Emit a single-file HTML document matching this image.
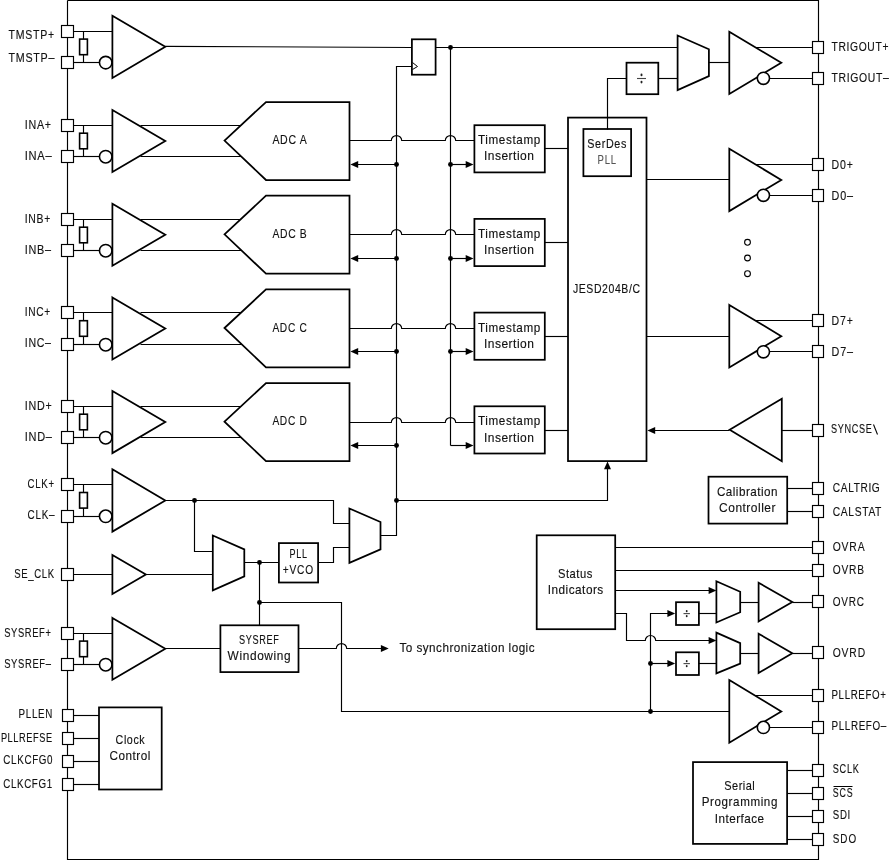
<!DOCTYPE html>
<html><head><meta charset="utf-8"><style>
html,body{margin:0;padding:0;background:#fff;width:890px;height:860px;overflow:hidden}
svg{display:block;filter:grayscale(1)}
text{font-family:"Liberation Sans",sans-serif}
</style></head><body>
<svg width="890" height="860" viewBox="0 0 890 860">
<rect width="890" height="860" fill="#fff"/>
<path d="M67.5 0.5 L818.5 0.5 L818.5 859.5 L67.5 859.5 L67.5 0.5" fill="none" stroke="#000" stroke-width="1.15"/>
<path d="M73.5 31.5 L112.5 31.5" fill="none" stroke="#000" stroke-width="1.15"/>
<path d="M73.5 62.5 L100.5 62.5" fill="none" stroke="#000" stroke-width="1.15"/>
<path d="M83.5 31.5 L83.5 62.5" fill="none" stroke="#000" stroke-width="1.15"/>
<rect x="79.6" y="39.1" width="7.8" height="15.6" fill="#fff" stroke="#000" stroke-width="1.6"/>
<circle cx="105.7" cy="62.6" r="6.25" fill="#fff" stroke="#000" stroke-width="1.6"/>
<path d="M112.4 15.7 L165.3 46.85 L112.4 78Z" fill="#fff" stroke="#000" stroke-width="1.75" stroke-linejoin="miter"/>
<path d="M165.3 46.4 L412 47.45" fill="none" stroke="#000" stroke-width="1.15"/>
<path d="M140.5 125.5 L250.5 125.5" fill="none" stroke="#000" stroke-width="1.15"/>
<path d="M140.5 156.5 L250.5 156.5" fill="none" stroke="#000" stroke-width="1.15"/>
<path d="M73.5 125.5 L112.5 125.5" fill="none" stroke="#000" stroke-width="1.15"/>
<path d="M73.5 156.5 L100.5 156.5" fill="none" stroke="#000" stroke-width="1.15"/>
<path d="M83.5 125.5 L83.5 156.5" fill="none" stroke="#000" stroke-width="1.15"/>
<rect x="79.6" y="133.2" width="7.8" height="15.6" fill="#fff" stroke="#000" stroke-width="1.6"/>
<circle cx="105.7" cy="156.7" r="6.25" fill="#fff" stroke="#000" stroke-width="1.6"/>
<path d="M112.4 110 L165.3 141 L112.4 172Z" fill="#fff" stroke="#000" stroke-width="1.75" stroke-linejoin="miter"/>
<path d="M224.5 140.6 L266 102 L349.5 102 L349.5 180 L266 180Z" fill="#fff" stroke="#000" stroke-width="1.75" stroke-linejoin="miter"/>
<text transform="matrix(0.8437 0 0 1 272.4 0)" y="144.4" font-size="12.5" letter-spacing="0.815" fill="#111" stroke="#111" stroke-width="0.14">ADC A</text>
<path d="M349.5 140.5 L391.3 140.5 A5.2 4.94 0 0 1 401.7 140.5 L445.3 140.5 A5.2 4.94 0 0 1 455.7 140.5 L474.4 140.5" fill="none" stroke="#000" stroke-width="1.15"/>
<path d="M357.5 164.5 L396.5 164.5" fill="none" stroke="#000" stroke-width="1.15"/>
<path d="M450.5 164.5 L466.5 164.5" fill="none" stroke="#000" stroke-width="1.15"/>
<path d="M350.4 164.5 L358.2 161 L358.2 168Z" fill="#000"/>
<path d="M473.5 164.5 L465.7 161 L465.7 168Z" fill="#000"/>
<circle cx="396.5" cy="164.5" r="2.45" fill="#000"/>
<circle cx="450.5" cy="164.5" r="2.45" fill="#000"/>
<rect x="474.4" y="125.2" width="70.4" height="47.2" fill="#fff" stroke="#000" stroke-width="1.75"/>
<path d="M544.5 148.5 L568.5 148.5" fill="none" stroke="#000" stroke-width="1.15"/>
<text transform="matrix(0.9342 0 0 1 478 0)" y="144.3" font-size="12.5" letter-spacing="0.667" fill="#111" stroke="#111" stroke-width="0.14">Timestamp</text>
<text transform="matrix(0.9615 0 0 1 483.9 0)" y="160.5" font-size="12.5" letter-spacing="0.521" fill="#111" stroke="#111" stroke-width="0.14">Insertion</text>
<path d="M140.5 219.5 L250.5 219.5" fill="none" stroke="#000" stroke-width="1.15"/>
<path d="M140.5 250.5 L250.5 250.5" fill="none" stroke="#000" stroke-width="1.15"/>
<path d="M73.5 219.5 L112.5 219.5" fill="none" stroke="#000" stroke-width="1.15"/>
<path d="M73.5 250.5 L100.5 250.5" fill="none" stroke="#000" stroke-width="1.15"/>
<path d="M83.5 219.5 L83.5 250.5" fill="none" stroke="#000" stroke-width="1.15"/>
<rect x="79.6" y="227.2" width="7.8" height="15.6" fill="#fff" stroke="#000" stroke-width="1.6"/>
<circle cx="105.7" cy="250.7" r="6.25" fill="#fff" stroke="#000" stroke-width="1.6"/>
<path d="M112.4 203.7 L165.3 234.7 L112.4 265.7Z" fill="#fff" stroke="#000" stroke-width="1.75" stroke-linejoin="miter"/>
<path d="M224.5 234.3 L266 195.7 L349.5 195.7 L349.5 273.7 L266 273.7Z" fill="#fff" stroke="#000" stroke-width="1.75" stroke-linejoin="miter"/>
<text transform="matrix(0.8285 0 0 1 272.4 0)" y="238.1" font-size="12.5" letter-spacing="0.830" fill="#111" stroke="#111" stroke-width="0.14">ADC B</text>
<path d="M349.5 234.5 L391.3 234.5 A5.2 4.94 0 0 1 401.7 234.5 L445.3 234.5 A5.2 4.94 0 0 1 455.7 234.5 L474.4 234.5" fill="none" stroke="#000" stroke-width="1.15"/>
<path d="M357.5 258.5 L396.5 258.5" fill="none" stroke="#000" stroke-width="1.15"/>
<path d="M450.5 258.5 L466.5 258.5" fill="none" stroke="#000" stroke-width="1.15"/>
<path d="M350.4 258.5 L358.2 255 L358.2 262Z" fill="#000"/>
<path d="M473.5 258.5 L465.7 255 L465.7 262Z" fill="#000"/>
<circle cx="396.5" cy="258.5" r="2.45" fill="#000"/>
<circle cx="450.5" cy="258.5" r="2.45" fill="#000"/>
<rect x="474.4" y="218.9" width="70.4" height="47.2" fill="#fff" stroke="#000" stroke-width="1.75"/>
<path d="M544.5 242.5 L568.5 242.5" fill="none" stroke="#000" stroke-width="1.15"/>
<text transform="matrix(0.9342 0 0 1 478 0)" y="238" font-size="12.5" letter-spacing="0.667" fill="#111" stroke="#111" stroke-width="0.14">Timestamp</text>
<text transform="matrix(0.9615 0 0 1 483.9 0)" y="254.2" font-size="12.5" letter-spacing="0.521" fill="#111" stroke="#111" stroke-width="0.14">Insertion</text>
<path d="M140.5 312.5 L250.5 312.5" fill="none" stroke="#000" stroke-width="1.15"/>
<path d="M140.5 344.5 L250.5 344.5" fill="none" stroke="#000" stroke-width="1.15"/>
<path d="M73.5 312.5 L112.5 312.5" fill="none" stroke="#000" stroke-width="1.15"/>
<path d="M73.5 344.5 L100.5 344.5" fill="none" stroke="#000" stroke-width="1.15"/>
<path d="M83.5 312.5 L83.5 344.5" fill="none" stroke="#000" stroke-width="1.15"/>
<rect x="79.6" y="320.7" width="7.8" height="15.6" fill="#fff" stroke="#000" stroke-width="1.6"/>
<circle cx="105.7" cy="344.7" r="6.25" fill="#fff" stroke="#000" stroke-width="1.6"/>
<path d="M112.4 297.4 L165.3 328.4 L112.4 359.4Z" fill="#fff" stroke="#000" stroke-width="1.75" stroke-linejoin="miter"/>
<path d="M224.5 328 L266 289.4 L349.5 289.4 L349.5 367.4 L266 367.4Z" fill="#fff" stroke="#000" stroke-width="1.75" stroke-linejoin="miter"/>
<text transform="matrix(0.8138 0 0 1 272.4 0)" y="331.8" font-size="12.5" letter-spacing="0.845" fill="#111" stroke="#111" stroke-width="0.14">ADC C</text>
<path d="M349.5 328.5 L391.3 328.5 A5.2 4.94 0 0 1 401.7 328.5 L445.3 328.5 A5.2 4.94 0 0 1 455.7 328.5 L474.4 328.5" fill="none" stroke="#000" stroke-width="1.15"/>
<path d="M357.5 351.5 L396.5 351.5" fill="none" stroke="#000" stroke-width="1.15"/>
<path d="M450.5 351.5 L466.5 351.5" fill="none" stroke="#000" stroke-width="1.15"/>
<path d="M350.4 351.5 L358.2 348 L358.2 355Z" fill="#000"/>
<path d="M473.5 351.5 L465.7 348 L465.7 355Z" fill="#000"/>
<circle cx="396.5" cy="351.5" r="2.45" fill="#000"/>
<circle cx="450.5" cy="351.5" r="2.45" fill="#000"/>
<rect x="474.4" y="312.6" width="70.4" height="47.2" fill="#fff" stroke="#000" stroke-width="1.75"/>
<path d="M544.5 336.5 L568.5 336.5" fill="none" stroke="#000" stroke-width="1.15"/>
<text transform="matrix(0.9342 0 0 1 478 0)" y="331.7" font-size="12.5" letter-spacing="0.667" fill="#111" stroke="#111" stroke-width="0.14">Timestamp</text>
<text transform="matrix(0.9615 0 0 1 483.9 0)" y="347.9" font-size="12.5" letter-spacing="0.521" fill="#111" stroke="#111" stroke-width="0.14">Insertion</text>
<path d="M140.5 406.5 L250.5 406.5" fill="none" stroke="#000" stroke-width="1.15"/>
<path d="M140.5 437.5 L250.5 437.5" fill="none" stroke="#000" stroke-width="1.15"/>
<path d="M73.5 406.5 L112.5 406.5" fill="none" stroke="#000" stroke-width="1.15"/>
<path d="M73.5 437.5 L100.5 437.5" fill="none" stroke="#000" stroke-width="1.15"/>
<path d="M83.5 406.5 L83.5 437.5" fill="none" stroke="#000" stroke-width="1.15"/>
<rect x="79.6" y="414.2" width="7.8" height="15.6" fill="#fff" stroke="#000" stroke-width="1.6"/>
<circle cx="105.7" cy="437.7" r="6.25" fill="#fff" stroke="#000" stroke-width="1.6"/>
<path d="M112.4 391.1 L165.3 422.1 L112.4 453.1Z" fill="#fff" stroke="#000" stroke-width="1.75" stroke-linejoin="miter"/>
<path d="M224.5 421.7 L266 383.1 L349.5 383.1 L349.5 461.1 L266 461.1Z" fill="#fff" stroke="#000" stroke-width="1.75" stroke-linejoin="miter"/>
<text transform="matrix(0.8138 0 0 1 272.4 0)" y="425.5" font-size="12.5" letter-spacing="0.845" fill="#111" stroke="#111" stroke-width="0.14">ADC D</text>
<path d="M349.5 422.5 L391.3 422.5 A5.2 4.94 0 0 1 401.7 422.5 L445.3 422.5 A5.2 4.94 0 0 1 455.7 422.5 L474.4 422.5" fill="none" stroke="#000" stroke-width="1.15"/>
<path d="M357.5 445.5 L396.5 445.5" fill="none" stroke="#000" stroke-width="1.15"/>
<path d="M450.5 445.5 L466.5 445.5" fill="none" stroke="#000" stroke-width="1.15"/>
<path d="M350.4 445.5 L358.2 442 L358.2 449Z" fill="#000"/>
<path d="M473.5 445.5 L465.7 442 L465.7 449Z" fill="#000"/>
<circle cx="396.5" cy="445.5" r="2.45" fill="#000"/>
<rect x="474.4" y="406.3" width="70.4" height="47.2" fill="#fff" stroke="#000" stroke-width="1.75"/>
<path d="M544.5 430.5 L568.5 430.5" fill="none" stroke="#000" stroke-width="1.15"/>
<text transform="matrix(0.9342 0 0 1 478 0)" y="425.4" font-size="12.5" letter-spacing="0.667" fill="#111" stroke="#111" stroke-width="0.14">Timestamp</text>
<text transform="matrix(0.9615 0 0 1 483.9 0)" y="441.6" font-size="12.5" letter-spacing="0.521" fill="#111" stroke="#111" stroke-width="0.14">Insertion</text>
<path d="M73.5 484.5 L112.5 484.5" fill="none" stroke="#000" stroke-width="1.15"/>
<path d="M73.5 516.5 L100.5 516.5" fill="none" stroke="#000" stroke-width="1.15"/>
<path d="M83.5 484.5 L83.5 516.5" fill="none" stroke="#000" stroke-width="1.15"/>
<rect x="79.6" y="492.5" width="7.8" height="15.6" fill="#fff" stroke="#000" stroke-width="1.6"/>
<circle cx="105.7" cy="516.3" r="6.25" fill="#fff" stroke="#000" stroke-width="1.6"/>
<path d="M112.4 469.3 L165.3 500.45 L112.4 531.6Z" fill="#fff" stroke="#000" stroke-width="1.75" stroke-linejoin="miter"/>
<path d="M165.5 500.5 L333.5 500.5 L333.5 523.5 L349.5 523.5" fill="none" stroke="#000" stroke-width="1.15"/>
<circle cx="194.5" cy="500.5" r="2.45" fill="#000"/>
<path d="M194.5 500.5 L194.5 551.5 L212.5 551.5" fill="none" stroke="#000" stroke-width="1.15"/>
<path d="M73.5 574.5 L112.5 574.5" fill="none" stroke="#000" stroke-width="1.15"/>
<path d="M112.4 555.1 L145.9 574.4 L112.4 594Z" fill="#fff" stroke="#000" stroke-width="1.75" stroke-linejoin="miter"/>
<path d="M145.5 574.5 L212.5 574.5" fill="none" stroke="#000" stroke-width="1.15"/>
<path d="M212.8 535.5 L244.3 549.4 L244.3 576.4 L212.8 590.3Z" fill="#fff" stroke="#000" stroke-width="1.75" stroke-linejoin="miter"/>
<path d="M244.5 562.5 L278.5 562.5" fill="none" stroke="#000" stroke-width="1.15"/>
<circle cx="259.5" cy="562.5" r="2.45" fill="#000"/>
<rect x="278.9" y="543.1" width="39.2" height="39.4" fill="#fff" stroke="#000" stroke-width="1.75"/>
<text transform="matrix(0.7240 0 0 1 289.6 0)" y="557.9" font-size="12.5" letter-spacing="0.967" fill="#111" stroke="#111" stroke-width="0.14">PLL</text>
<text transform="matrix(0.8133 0 0 1 282.8 0)" y="574.4" font-size="12.5" letter-spacing="0.997" fill="#111" stroke="#111" stroke-width="0.14">+VCO</text>
<path d="M318.5 562.5 L333.5 562.5 L333.5 547.5 L349.5 547.5" fill="none" stroke="#000" stroke-width="1.15"/>
<path d="M349.4 508.5 L380.5 522 L380.5 549.4 L349.4 562.9Z" fill="#fff" stroke="#000" stroke-width="1.75" stroke-linejoin="miter"/>
<path d="M380.5 535.5 L396.5 535.5 L396.5 66.5 L412.5 66.5" fill="none" stroke="#000" stroke-width="1.15"/>
<rect x="411.9" y="39.3" width="23.7" height="35.4" fill="#fff" stroke="#000" stroke-width="1.75"/>
<path d="M412.5 62.5 L417.5 66.5 L412.5 69.5" fill="none" stroke="#000" stroke-width="1.0"/>
<path d="M435.5 47.5 L677.5 47.5" fill="none" stroke="#000" stroke-width="1.15"/>
<circle cx="450.5" cy="47.5" r="2.45" fill="#000"/>
<path d="M450.5 47.5 L450.5 445.5" fill="none" stroke="#000" stroke-width="1.15"/>
<circle cx="396.5" cy="500.5" r="2.45" fill="#000"/>
<path d="M396.5 500.5 L607.5 500.5 L607.5 468.5" fill="none" stroke="#000" stroke-width="1.15"/>
<path d="M607.5 461.5 L604 469.3 L611 469.3Z" fill="#000"/>
<path d="M259.5 562.5 L259.5 625.5" fill="none" stroke="#000" stroke-width="1.15"/>
<circle cx="259.5" cy="602.5" r="2.45" fill="#000"/>
<path d="M259.5 602.5 L341.5 602.5 L341.5 711.5 L729.5 711.5" fill="none" stroke="#000" stroke-width="1.15"/>
<circle cx="650.5" cy="711.5" r="2.45" fill="#000"/>
<path d="M73.5 633.5 L112.5 633.5" fill="none" stroke="#000" stroke-width="1.15"/>
<path d="M73.5 664.5 L100.5 664.5" fill="none" stroke="#000" stroke-width="1.15"/>
<path d="M83.5 633.5 L83.5 664.5" fill="none" stroke="#000" stroke-width="1.15"/>
<rect x="79.6" y="641.1" width="7.8" height="15.6" fill="#fff" stroke="#000" stroke-width="1.6"/>
<circle cx="105.7" cy="664.7" r="6.25" fill="#fff" stroke="#000" stroke-width="1.6"/>
<path d="M112.4 617.9 L165.3 648.85 L112.4 679.8Z" fill="#fff" stroke="#000" stroke-width="1.75" stroke-linejoin="miter"/>
<path d="M165.5 648.5 L220.5 648.5" fill="none" stroke="#000" stroke-width="1.15"/>
<rect x="220.4" y="625.3" width="78.1" height="46.8" fill="#fff" stroke="#000" stroke-width="1.75"/>
<text transform="matrix(0.7321 0 0 1 239 0)" y="643.7" font-size="12.5" letter-spacing="0.870" fill="#111" stroke="#111" stroke-width="0.14">SYSREF</text>
<text transform="matrix(0.9495 0 0 1 227.6 0)" y="660.3" font-size="12.5" letter-spacing="0.665" fill="#111" stroke="#111" stroke-width="0.14">Windowing</text>
<path d="M298.5 648.5 L336.3 648.5 A5.2 4.94 0 0 1 346.7 648.5 L382 648.5" fill="none" stroke="#000" stroke-width="1.15"/>
<path d="M388.7 648.5 L380.9 645 L380.9 652Z" fill="#000"/>
<text transform="matrix(0.9372 0 0 1 399.4 0)" y="652.5" font-size="12.5" letter-spacing="0.502" fill="#111" stroke="#111" stroke-width="0.14">To synchronization logic</text>
<path d="M73.5 715.5 L99.5 715.5" fill="none" stroke="#000" stroke-width="1.15"/>
<path d="M73.5 738.5 L99.5 738.5" fill="none" stroke="#000" stroke-width="1.15"/>
<path d="M73.5 761.5 L99.5 761.5" fill="none" stroke="#000" stroke-width="1.15"/>
<path d="M73.5 784.5 L99.5 784.5" fill="none" stroke="#000" stroke-width="1.15"/>
<rect x="99" y="707.4" width="62.7" height="82.1" fill="#fff" stroke="#000" stroke-width="1.75"/>
<text transform="matrix(0.8557 0 0 1 115.6 0)" y="743.6" font-size="12.5" letter-spacing="0.680" fill="#111" stroke="#111" stroke-width="0.14">Clock</text>
<text transform="matrix(0.9360 0 0 1 109.5 0)" y="760.2" font-size="12.5" letter-spacing="0.584" fill="#111" stroke="#111" stroke-width="0.14">Control</text>
<rect x="568" y="117.6" width="78.5" height="343.5" fill="#fff" stroke="#000" stroke-width="1.75"/>
<text transform="matrix(0.8394 0 0 1 572.9 0)" y="292.8" font-size="12.5" letter-spacing="0.712" fill="#111" stroke="#111" stroke-width="0.14">JESD204B/C</text>
<rect x="583.4" y="129" width="47.7" height="47.2" fill="#fff" stroke="#000" stroke-width="1.75"/>
<text transform="matrix(0.8607 0 0 1 587.3 0)" y="147.9" font-size="12.5" letter-spacing="0.725" fill="#111" stroke="#111" stroke-width="0.14">SerDes</text>
<text transform="matrix(0.7612 0 0 1 597.6 0)" y="164.3" font-size="12.5" letter-spacing="0.967" fill="#555" stroke="#555" stroke-width="0.14">PLL</text>
<path d="M607.5 129.5 L607.5 78.5 L626.5 78.5" fill="none" stroke="#000" stroke-width="1.15"/>
<rect x="626.5" y="62.7" width="31.8" height="31.5" fill="#fff" stroke="#000" stroke-width="1.75"/>
<path d="M658.5 78.5 L677.5 78.5" fill="none" stroke="#000" stroke-width="1.15"/>
<path d="M677.6 35.5 L708.9 49.2 L708.9 76.1 L677.6 90.1Z" fill="#fff" stroke="#000" stroke-width="1.75" stroke-linejoin="miter"/>
<path d="M708.5 62.5 L729.5 62.5" fill="none" stroke="#000" stroke-width="1.15"/>
<path d="M740.5 47.5 L812.5 47.5" fill="none" stroke="#000" stroke-width="1.15"/>
<path d="M765.5 78.5 L812.5 78.5" fill="none" stroke="#000" stroke-width="1.15"/>
<path d="M729.3 31.7 L781.3 62.8 L729.3 93.9Z" fill="#fff" stroke="#000" stroke-width="1.75" stroke-linejoin="miter"/>
<circle cx="763.4" cy="78.3" r="6.1" fill="#fff" stroke="#000" stroke-width="1.6"/>
<path d="M646.5 179.5 L729.5 179.5" fill="none" stroke="#000" stroke-width="1.15"/>
<path d="M740.5 164.5 L812.5 164.5" fill="none" stroke="#000" stroke-width="1.15"/>
<path d="M765.5 195.5 L812.5 195.5" fill="none" stroke="#000" stroke-width="1.15"/>
<path d="M729.3 148.8 L781.3 179.95 L729.3 211.1Z" fill="#fff" stroke="#000" stroke-width="1.75" stroke-linejoin="miter"/>
<circle cx="763.4" cy="195.3" r="6.1" fill="#fff" stroke="#000" stroke-width="1.6"/>
<path d="M646.5 336.5 L729.5 336.5" fill="none" stroke="#000" stroke-width="1.15"/>
<path d="M740.5 320.5 L812.5 320.5" fill="none" stroke="#000" stroke-width="1.15"/>
<path d="M765.5 351.5 L812.5 351.5" fill="none" stroke="#000" stroke-width="1.15"/>
<path d="M729.3 304.9 L781.3 336.2 L729.3 367.5Z" fill="#fff" stroke="#000" stroke-width="1.75" stroke-linejoin="miter"/>
<circle cx="763.4" cy="351.8" r="6.1" fill="#fff" stroke="#000" stroke-width="1.6"/>
<circle cx="747.5" cy="242.3" r="2.9" fill="#fff" stroke="#000" stroke-width="1.1"/>
<circle cx="747.5" cy="258" r="2.9" fill="#fff" stroke="#000" stroke-width="1.1"/>
<circle cx="747.5" cy="273.7" r="2.9" fill="#fff" stroke="#000" stroke-width="1.1"/>
<path d="M781.5 430.5 L812.5 430.5" fill="none" stroke="#000" stroke-width="1.15"/>
<path d="M781.8 398.7 L729.7 429.8 L781.8 461.2Z" fill="#fff" stroke="#000" stroke-width="1.75" stroke-linejoin="miter"/>
<path d="M729.5 430.5 L652.5 430.5" fill="none" stroke="#000" stroke-width="1.15"/>
<path d="M647.4 430.5 L655.2 427 L655.2 434Z" fill="#000"/>
<rect x="708.5" y="476.7" width="78.7" height="46.9" fill="#fff" stroke="#000" stroke-width="1.75"/>
<path d="M787.5 488.5 L812.5 488.5" fill="none" stroke="#000" stroke-width="1.15"/>
<path d="M787.5 511.5 L812.5 511.5" fill="none" stroke="#000" stroke-width="1.15"/>
<text transform="matrix(0.9331 0 0 1 716.9 0)" y="495.6" font-size="12.5" letter-spacing="0.520" fill="#111" stroke="#111" stroke-width="0.14">Calibration</text>
<text transform="matrix(0.9576 0 0 1 719.1 0)" y="511.9" font-size="12.5" letter-spacing="0.524" fill="#111" stroke="#111" stroke-width="0.14">Controller</text>
<rect x="536.7" y="535.3" width="78.5" height="93.9" fill="#fff" stroke="#000" stroke-width="1.75"/>
<text transform="matrix(0.8957 0 0 1 557.9 0)" y="577.7" font-size="12.5" letter-spacing="0.616" fill="#111" stroke="#111" stroke-width="0.14">Status</text>
<text transform="matrix(0.9440 0 0 1 547.7 0)" y="594" font-size="12.5" letter-spacing="0.524" fill="#111" stroke="#111" stroke-width="0.14">Indicators</text>
<path d="M615.5 547.5 L812.5 547.5" fill="none" stroke="#000" stroke-width="1.15"/>
<path d="M615.5 570.5 L812.5 570.5" fill="none" stroke="#000" stroke-width="1.15"/>
<path d="M615.5 590.5 L709.5 590.5" fill="none" stroke="#000" stroke-width="1.15"/>
<path d="M716.4 590.5 L708.6 587 L708.6 594Z" fill="#000"/>
<path d="M615.2 613.5 L626.5 613.5 L626.5 640.5 L645.3 640.5 A5.2 5 0 0 1 655.7 640.5 L709 640.5" fill="none" stroke="#000" stroke-width="1.15"/>
<path d="M716.4 640.5 L708.6 637 L708.6 644Z" fill="#000"/>
<path d="M650.5 711.5 L650.5 613.5 L668.5 613.5" fill="none" stroke="#000" stroke-width="1.15"/>
<path d="M675.2 613.5 L667.4 610 L667.4 617Z" fill="#000"/>
<circle cx="650.5" cy="663.5" r="2.45" fill="#000"/>
<path d="M650.5 663.5 L668.5 663.5" fill="none" stroke="#000" stroke-width="1.15"/>
<path d="M675.2 663.5 L667.4 660 L667.4 667Z" fill="#000"/>
<rect x="676" y="602.2" width="22.9" height="22.8" fill="#fff" stroke="#000" stroke-width="1.75"/>
<path d="M698.5 613.5 L716.5 613.5" fill="none" stroke="#000" stroke-width="1.15"/>
<rect x="676" y="652.3" width="22.9" height="22.7" fill="#fff" stroke="#000" stroke-width="1.75"/>
<path d="M698.5 663.5 L716.5 663.5" fill="none" stroke="#000" stroke-width="1.15"/>
<path d="M683.5 613.6 L689.9 613.6" stroke="#444" stroke-width="1.1"/>
<ellipse cx="686.7" cy="611.1" rx="0.9" ry="1.2" fill="#222"/>
<ellipse cx="686.7" cy="616.1" rx="0.9" ry="1.2" fill="#222"/>
<path d="M683.5 663.6 L689.9 663.6" stroke="#444" stroke-width="1.1"/>
<ellipse cx="686.7" cy="661.1" rx="0.9" ry="1.2" fill="#222"/>
<ellipse cx="686.7" cy="666.1" rx="0.9" ry="1.2" fill="#222"/>
<path d="M637 78.5 L646 78.5" stroke="#444" stroke-width="1.1"/>
<ellipse cx="641.5" cy="74.9" rx="0.99" ry="1.32" fill="#222"/>
<ellipse cx="641.5" cy="82.1" rx="0.99" ry="1.32" fill="#222"/>
<path d="M716.4 581.3 L740.2 591.7 L740.2 612.2 L716.4 622.5Z" fill="#fff" stroke="#000" stroke-width="1.75" stroke-linejoin="miter"/>
<path d="M740.5 602.5 L758.5 602.5" fill="none" stroke="#000" stroke-width="1.15"/>
<path d="M792.5 602.5 L812.5 602.5" fill="none" stroke="#000" stroke-width="1.15"/>
<path d="M758.6 582.7 L792.3 602.05 L758.6 621.4Z" fill="#fff" stroke="#000" stroke-width="1.75" stroke-linejoin="miter"/>
<path d="M716.4 632.6 L740.2 643.1 L740.2 663.6 L716.4 673.4Z" fill="#fff" stroke="#000" stroke-width="1.75" stroke-linejoin="miter"/>
<path d="M740.5 653.5 L758.5 653.5" fill="none" stroke="#000" stroke-width="1.15"/>
<path d="M792.5 653.5 L812.5 653.5" fill="none" stroke="#000" stroke-width="1.15"/>
<path d="M758.6 633.7 L792.3 653.3 L758.6 672.9Z" fill="#fff" stroke="#000" stroke-width="1.75" stroke-linejoin="miter"/>
<path d="M740.5 695.5 L812.5 695.5" fill="none" stroke="#000" stroke-width="1.15"/>
<path d="M765.5 727.5 L812.5 727.5" fill="none" stroke="#000" stroke-width="1.15"/>
<path d="M729.3 680 L781.3 711.4 L729.3 742.8Z" fill="#fff" stroke="#000" stroke-width="1.75" stroke-linejoin="miter"/>
<circle cx="763.4" cy="727.4" r="6.1" fill="#fff" stroke="#000" stroke-width="1.6"/>
<rect x="693" y="762.1" width="94.1" height="81.8" fill="#fff" stroke="#000" stroke-width="1.75"/>
<path d="M787.5 770.5 L812.5 770.5" fill="none" stroke="#000" stroke-width="1.15"/>
<path d="M787.5 793.5 L812.5 793.5" fill="none" stroke="#000" stroke-width="1.15"/>
<path d="M787.5 816.5 L812.5 816.5" fill="none" stroke="#000" stroke-width="1.15"/>
<path d="M787.5 839.5 L812.5 839.5" fill="none" stroke="#000" stroke-width="1.15"/>
<text transform="matrix(0.8779 0 0 1 724.3 0)" y="789.6" font-size="12.5" letter-spacing="0.556" fill="#111" stroke="#111" stroke-width="0.14">Serial</text>
<text transform="matrix(0.9295 0 0 1 701.7 0)" y="806.3" font-size="12.5" letter-spacing="0.652" fill="#111" stroke="#111" stroke-width="0.14">Programming</text>
<text transform="matrix(0.9344 0 0 1 714.7 0)" y="823" font-size="12.5" letter-spacing="0.529" fill="#111" stroke="#111" stroke-width="0.14">Interface</text>
<rect x="61.5" y="25.5" width="12" height="12" fill="#fff" stroke="#000" stroke-width="1.15"/>
<rect x="61.5" y="56.5" width="12" height="12" fill="#fff" stroke="#000" stroke-width="1.15"/>
<rect x="61.5" y="119.5" width="12" height="12" fill="#fff" stroke="#000" stroke-width="1.15"/>
<rect x="61.5" y="150.5" width="12" height="12" fill="#fff" stroke="#000" stroke-width="1.15"/>
<rect x="61.5" y="213.5" width="12" height="12" fill="#fff" stroke="#000" stroke-width="1.15"/>
<rect x="61.5" y="244.5" width="12" height="12" fill="#fff" stroke="#000" stroke-width="1.15"/>
<rect x="61.5" y="306.5" width="12" height="12" fill="#fff" stroke="#000" stroke-width="1.15"/>
<rect x="61.5" y="338.5" width="12" height="12" fill="#fff" stroke="#000" stroke-width="1.15"/>
<rect x="61.5" y="400.5" width="12" height="12" fill="#fff" stroke="#000" stroke-width="1.15"/>
<rect x="61.5" y="431.5" width="12" height="12" fill="#fff" stroke="#000" stroke-width="1.15"/>
<rect x="61.5" y="478.5" width="12" height="12" fill="#fff" stroke="#000" stroke-width="1.15"/>
<rect x="61.5" y="510.5" width="12" height="12" fill="#fff" stroke="#000" stroke-width="1.15"/>
<rect x="61.5" y="568.5" width="12" height="12" fill="#fff" stroke="#000" stroke-width="1.15"/>
<rect x="61.5" y="627.5" width="12" height="12" fill="#fff" stroke="#000" stroke-width="1.15"/>
<rect x="61.5" y="658.5" width="12" height="12" fill="#fff" stroke="#000" stroke-width="1.15"/>
<rect x="62.5" y="709.5" width="11" height="12" fill="#fff" stroke="#000" stroke-width="1.15"/>
<rect x="62.5" y="732.5" width="11" height="12" fill="#fff" stroke="#000" stroke-width="1.15"/>
<rect x="62.5" y="755.5" width="11" height="12" fill="#fff" stroke="#000" stroke-width="1.15"/>
<rect x="62.5" y="778.5" width="11" height="12" fill="#fff" stroke="#000" stroke-width="1.15"/>
<rect x="812.5" y="41.5" width="11" height="12" fill="#fff" stroke="#000" stroke-width="1.15"/>
<rect x="812.5" y="72.5" width="11" height="12" fill="#fff" stroke="#000" stroke-width="1.15"/>
<rect x="812.5" y="158.5" width="11" height="12" fill="#fff" stroke="#000" stroke-width="1.15"/>
<rect x="812.5" y="189.5" width="11" height="12" fill="#fff" stroke="#000" stroke-width="1.15"/>
<rect x="812.5" y="314.5" width="11" height="12" fill="#fff" stroke="#000" stroke-width="1.15"/>
<rect x="812.5" y="345.5" width="11" height="12" fill="#fff" stroke="#000" stroke-width="1.15"/>
<rect x="812.5" y="424.5" width="11" height="12" fill="#fff" stroke="#000" stroke-width="1.15"/>
<rect x="812.5" y="482.5" width="11" height="12" fill="#fff" stroke="#000" stroke-width="1.15"/>
<rect x="812.5" y="505.5" width="11" height="12" fill="#fff" stroke="#000" stroke-width="1.15"/>
<rect x="812.5" y="541.5" width="11" height="12" fill="#fff" stroke="#000" stroke-width="1.15"/>
<rect x="812.5" y="564.5" width="11" height="12" fill="#fff" stroke="#000" stroke-width="1.15"/>
<rect x="812.5" y="595.5" width="11" height="12" fill="#fff" stroke="#000" stroke-width="1.15"/>
<rect x="812.5" y="646.5" width="11" height="12" fill="#fff" stroke="#000" stroke-width="1.15"/>
<rect x="812.5" y="689.5" width="11" height="12" fill="#fff" stroke="#000" stroke-width="1.15"/>
<rect x="812.5" y="721.5" width="11" height="12" fill="#fff" stroke="#000" stroke-width="1.15"/>
<rect x="812.5" y="764.5" width="11" height="12" fill="#fff" stroke="#000" stroke-width="1.15"/>
<rect x="812.5" y="787.5" width="11" height="12" fill="#fff" stroke="#000" stroke-width="1.15"/>
<rect x="812.5" y="810.5" width="11" height="12" fill="#fff" stroke="#000" stroke-width="1.15"/>
<rect x="812.5" y="833.5" width="11" height="12" fill="#fff" stroke="#000" stroke-width="1.15"/>
<text transform="matrix(0.8447 0 0 1 8.5 0)" y="39.3" font-size="12.5" letter-spacing="0.864" fill="#111" stroke="#111" stroke-width="0.14">TMSTP+</text>
<text transform="matrix(0.8563 0 0 1 8.5 0)" y="61.8" font-size="12.5" letter-spacing="0.858" fill="#111" stroke="#111" stroke-width="0.14">TMSTP–</text>
<text transform="matrix(0.8567 0 0 1 24.8 0)" y="129.1" font-size="12.5" letter-spacing="0.816" fill="#111" stroke="#111" stroke-width="0.14">INA+</text>
<text transform="matrix(0.8906 0 0 1 24.8 0)" y="159.6" font-size="12.5" letter-spacing="0.805" fill="#111" stroke="#111" stroke-width="0.14">INA–</text>
<text transform="matrix(0.8338 0 0 1 24.8 0)" y="222.7" font-size="12.5" letter-spacing="0.816" fill="#111" stroke="#111" stroke-width="0.14">INB+</text>
<text transform="matrix(0.8674 0 0 1 24.8 0)" y="253.8" font-size="12.5" letter-spacing="0.805" fill="#111" stroke="#111" stroke-width="0.14">INB–</text>
<text transform="matrix(0.8139 0 0 1 24.8 0)" y="316" font-size="12.5" letter-spacing="0.836" fill="#111" stroke="#111" stroke-width="0.14">INC+</text>
<text transform="matrix(0.8465 0 0 1 24.8 0)" y="347.5" font-size="12.5" letter-spacing="0.825" fill="#111" stroke="#111" stroke-width="0.14">INC–</text>
<text transform="matrix(0.8586 0 0 1 24.8 0)" y="410.1" font-size="12.5" letter-spacing="0.836" fill="#111" stroke="#111" stroke-width="0.14">IND+</text>
<text transform="matrix(0.8788 0 0 1 24.8 0)" y="441.5" font-size="12.5" letter-spacing="0.825" fill="#111" stroke="#111" stroke-width="0.14">IND–</text>
<text transform="matrix(0.7712 0 0 1 27.6 0)" y="488.1" font-size="12.5" letter-spacing="0.916" fill="#111" stroke="#111" stroke-width="0.14">CLK+</text>
<text transform="matrix(0.7916 0 0 1 27.6 0)" y="519.5" font-size="12.5" letter-spacing="0.906" fill="#111" stroke="#111" stroke-width="0.14">CLK–</text>
<text transform="matrix(0.7657 0 0 1 14.2 0)" y="577.6" font-size="12.5" letter-spacing="0.834" fill="#111" stroke="#111" stroke-width="0.14">SE_CLK</text>
<text transform="matrix(0.7496 0 0 1 4.2 0)" y="636.7" font-size="12.5" letter-spacing="0.831" fill="#111" stroke="#111" stroke-width="0.14">SYSREF+</text>
<text transform="matrix(0.7559 0 0 1 4.2 0)" y="667.8" font-size="12.5" letter-spacing="0.826" fill="#111" stroke="#111" stroke-width="0.14">SYSREF–</text>
<text transform="matrix(0.7829 0 0 1 18.6 0)" y="718.4" font-size="12.5" letter-spacing="0.861" fill="#111" stroke="#111" stroke-width="0.14">PLLEN</text>
<text transform="matrix(0.7370 0 0 1 0.9 0)" y="742.4" font-size="12.5" letter-spacing="0.794" fill="#111" stroke="#111" stroke-width="0.14">PLLREFSE</text>
<text transform="matrix(0.7867 0 0 1 3.3 0)" y="764.2" font-size="12.5" letter-spacing="0.836" fill="#111" stroke="#111" stroke-width="0.14">CLKCFG0</text>
<text transform="matrix(0.7788 0 0 1 3.3 0)" y="788.1" font-size="12.5" letter-spacing="0.836" fill="#111" stroke="#111" stroke-width="0.14">CLKCFG1</text>
<text transform="matrix(0.8252 0 0 1 831.5 0)" y="51" font-size="12.5" letter-spacing="0.789" fill="#111" stroke="#111" stroke-width="0.14">TRIGOUT+</text>
<text transform="matrix(0.8327 0 0 1 831.5 0)" y="82.4" font-size="12.5" letter-spacing="0.785" fill="#111" stroke="#111" stroke-width="0.14">TRIGOUT–</text>
<text transform="matrix(0.8459 0 0 1 831.5 0)" y="168.8" font-size="12.5" letter-spacing="1.012" fill="#111" stroke="#111" stroke-width="0.14">D0+</text>
<text transform="matrix(0.8628 0 0 1 831.5 0)" y="199.8" font-size="12.5" letter-spacing="0.997" fill="#111" stroke="#111" stroke-width="0.14">D0–</text>
<text transform="matrix(0.8459 0 0 1 831.5 0)" y="324.6" font-size="12.5" letter-spacing="1.012" fill="#111" stroke="#111" stroke-width="0.14">D7+</text>
<text transform="matrix(0.8628 0 0 1 831.5 0)" y="355.6" font-size="12.5" letter-spacing="0.997" fill="#111" stroke="#111" stroke-width="0.14">D7–</text>
<text transform="matrix(0.7303 0 0 1 831.1 0)" y="433.4" font-size="12.5" letter-spacing="0.894" fill="#111" stroke="#111" stroke-width="0.14">SYNCSE</text>
<text transform="matrix(0.8120 0 0 1 832.8 0)" y="491.8" font-size="12.5" letter-spacing="0.772" fill="#111" stroke="#111" stroke-width="0.14">CALTRIG</text>
<text transform="matrix(0.8217 0 0 1 832.8 0)" y="515.9" font-size="12.5" letter-spacing="0.789" fill="#111" stroke="#111" stroke-width="0.14">CALSTAT</text>
<text transform="matrix(0.8285 0 0 1 832.7 0)" y="551.5" font-size="12.5" letter-spacing="1.027" fill="#111" stroke="#111" stroke-width="0.14">OVRA</text>
<text transform="matrix(0.8155 0 0 1 832.7 0)" y="574.4" font-size="12.5" letter-spacing="1.027" fill="#111" stroke="#111" stroke-width="0.14">OVRB</text>
<text transform="matrix(0.7999 0 0 1 832.7 0)" y="606.3" font-size="12.5" letter-spacing="1.047" fill="#111" stroke="#111" stroke-width="0.14">OVRC</text>
<text transform="matrix(0.8254 0 0 1 832.7 0)" y="656.8" font-size="12.5" letter-spacing="1.047" fill="#111" stroke="#111" stroke-width="0.14">OVRD</text>
<text transform="matrix(0.7788 0 0 1 831.5 0)" y="699" font-size="12.5" letter-spacing="0.798" fill="#111" stroke="#111" stroke-width="0.14">PLLREFO+</text>
<text transform="matrix(0.7888 0 0 1 831.5 0)" y="730" font-size="12.5" letter-spacing="0.794" fill="#111" stroke="#111" stroke-width="0.14">PLLREFO–</text>
<text transform="matrix(0.7326 0 0 1 832.8 0)" y="773" font-size="12.5" letter-spacing="0.946" fill="#111" stroke="#111" stroke-width="0.14">SCLK</text>
<text transform="matrix(0.7088 0 0 1 832.8 0)" y="797.4" font-size="12.5" letter-spacing="1.117" fill="#111" stroke="#111" stroke-width="0.14">SCS</text>
<text transform="matrix(0.7726 0 0 1 832.8 0)" y="819.1" font-size="12.5" letter-spacing="0.906" fill="#111" stroke="#111" stroke-width="0.14">SDI</text>
<text transform="matrix(0.7914 0 0 1 832.8 0)" y="842.8" font-size="12.5" letter-spacing="1.178" fill="#111" stroke="#111" stroke-width="0.14">SDO</text>
<path d="M833.5 786.5 L852.5 786.5" fill="none" stroke="#000" stroke-width="1.0"/>
<path d="M873.5 424.5 L877.5 434.5" fill="none" stroke="#000" stroke-width="1.05"/>
</svg>
</body></html>
